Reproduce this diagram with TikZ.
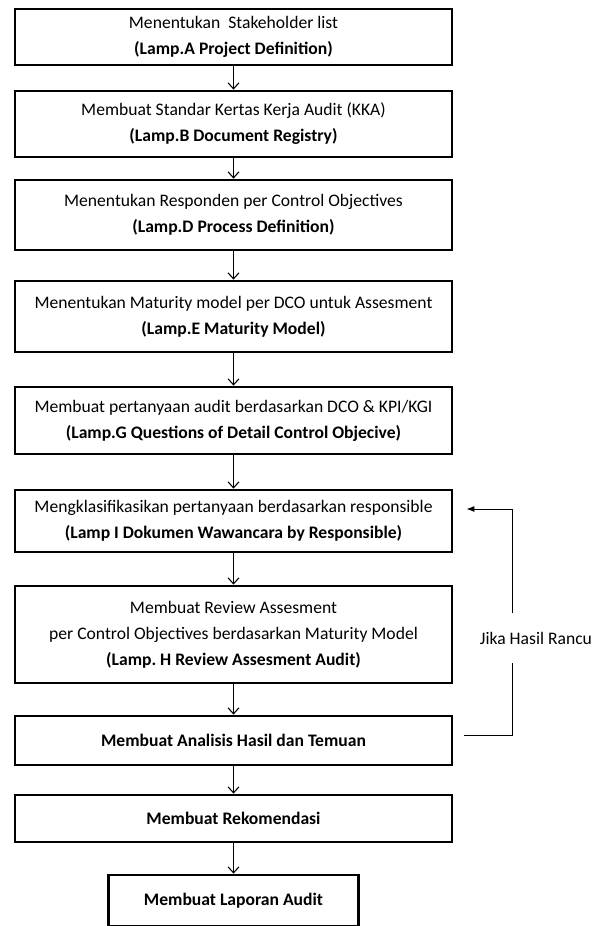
\documentclass[tikz,border=0pt]{standalone}
\usepackage{fontspec}
\setmainfont{Carlito}
\usetikzlibrary{arrows.meta}
\frenchspacing

\begin{document}
\begin{tikzpicture}[x=1pt, y=-1pt,
    langkah/.style={draw, line width=2.8pt, minimum width=437pt, align=center, font=\fontsize{17.6}{26}\selectfont},
    panah/.style={line width=1.1pt, -{Straight Barb[length=6pt, width=11pt]}},
    balik/.style={line width=1pt}]
    \useasboundingbox (0,0) rectangle (602,926);
    \node(S_1)[langkah, minimum height=56pt] at (233.5,37) {Menentukan~ Stakeholder list\\\textbf{(Lamp.A Project Definition)}};
    \node(S_2)[langkah, minimum height=66pt] at (233.5,124) {Membuat Standar Kertas Kerja Audit (KKA)\\\textbf{(Lamp.B Document Registry)}};
    \node(S_3)[langkah, minimum height=70pt] at (233.5,215) {Menentukan Responden per Control Objectives\\\textbf{(Lamp.D Process Definition)}};
    \node(S_4)[langkah, minimum height=71pt] at (233.5,316.5) {Menentukan Maturity model per DCO untuk Assesment\\\textbf{(Lamp.E Maturity Model)}};
    \node(S_5)[langkah, minimum height=67pt] at (233.5,420.5) {Membuat pertanyaan audit berdasarkan DCO \& KPI/KGI\\\textbf{(Lamp.G Questions of Detail Control Objecive)}};
    \node(S_6)[langkah, minimum height=62pt] at (233.5,521) {Mengklasifikasikan pertanyaan berdasarkan responsible\\\textbf{(Lamp I Dokumen Wawancara by Responsible)}};
    \node(S_7)[langkah, minimum height=97pt] at (233.5,634.5) {Membuat Review Assesment\\per Control Objectives berdasarkan Maturity Model\\\textbf{(Lamp. H Review Assesment Audit)}};
    \node(S_8)[langkah, minimum height=49pt] at (233.5,740.5) {\textbf{Membuat Analisis Hasil dan Temuan}};
    \node(S_9)[langkah, minimum height=47pt] at (233.5,818.5) {\textbf{Membuat Rekomendasi}};
    \node(S_10)[langkah, minimum width=250pt, minimum height=51pt] at (233.5,900.5) {\textbf{Membuat Laporan Audit}};
    \node(rancu)[font=\fontsize{17.6}{26}\selectfont, minimum height=50pt] at (536,638) {Jika Hasil Rancu};
    \foreach \a/\b in {1/2,2/3,3/4,4/5,5/6,6/7,7/8,8/9,9/10}
        \draw[panah] (S_\a) -- (S_\b);
    \coordinate(bawah) at (512,735);
    \coordinate(atas) at (512,509);
    \draw[balik] ([xshift=11pt]S_8.east |- bawah) -- (bawah) -- (bawah |- rancu.south);
    \draw[balik, -{Latex[length=8pt, width=6pt]}] (bawah |- rancu.north) -- (atas) -- ([xshift=13pt]S_6.east |- atas);
\end{tikzpicture}
\end{document}
